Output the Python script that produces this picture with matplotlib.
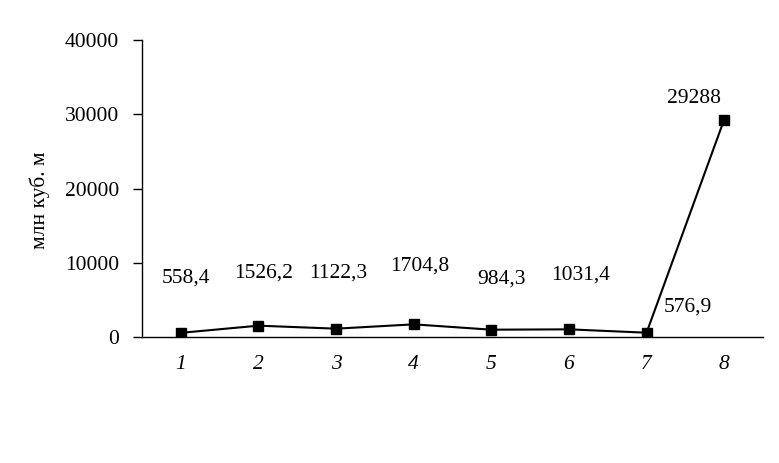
import matplotlib
matplotlib.use("Agg")
import matplotlib.pyplot as plt

categories = ["1", "2", "3", "4", "5", "6", "7", "8"]
values = [558.4, 1526.2, 1122.3, 1704.8, 984.3, 1031.4, 576.9, 29288]
labels = ["558,4", "1526,2", "1122,3", "1704,8", "984,3", "1031,4", "576,9", "29288"]
label_offsets = [(5, 55), (5, 53), (2, 56), (6, 58), (10, 51), (12, 54), (41, 26), (-30, 21)]
yticks = [0, 10000, 20000, 30000, 40000]

plt.rcParams['font.family'] = ['Liberation Serif', 'DejaVu Serif']

fig = plt.figure(figsize=(7.79, 4.63), dpi=100)
ax = fig.add_axes([142/779, 1-337/463, (763-142)/779, (337-40)/463])

x = list(range(1, len(values)+1))
ax.plot(x, values, color='black', lw=1.5, marker='s', markersize=6.5,
        markerfacecolor='black', markeredgecolor='black')

for xi, v, lab, (dx, dy) in zip(x, values, labels, label_offsets):
    ax.annotate(lab, (xi, v), xytext=(dx, dy), textcoords='offset pixels',
                ha='center', va='center', fontsize=15.5)

ax.set_xlim(0.5, 8.5)
ax.set_ylim(0, 40000)
ax.set_yticks(yticks)
ax.set_yticklabels([str(t) for t in yticks], fontsize=15.5)
ax.set_xticks(x)
ax.set_xticklabels(categories, fontsize=15.5, style='italic')
ax.tick_params(axis='x', length=0, pad=13)
ax.tick_params(axis='y', length=6.5, width=1, pad=10, direction='out', colors='black')
for s in ['top', 'right']:
    ax.spines[s].set_visible(False)
for s in ['left', 'bottom']:
    ax.spines[s].set_linewidth(1)
    ax.spines[s].set_color('black')

fig.text(40/779, 1-200/463, 'млн куб. м', rotation=90, ha='center', va='center', fontsize=15.5)

fig.savefig('out.png', dpi=100)
